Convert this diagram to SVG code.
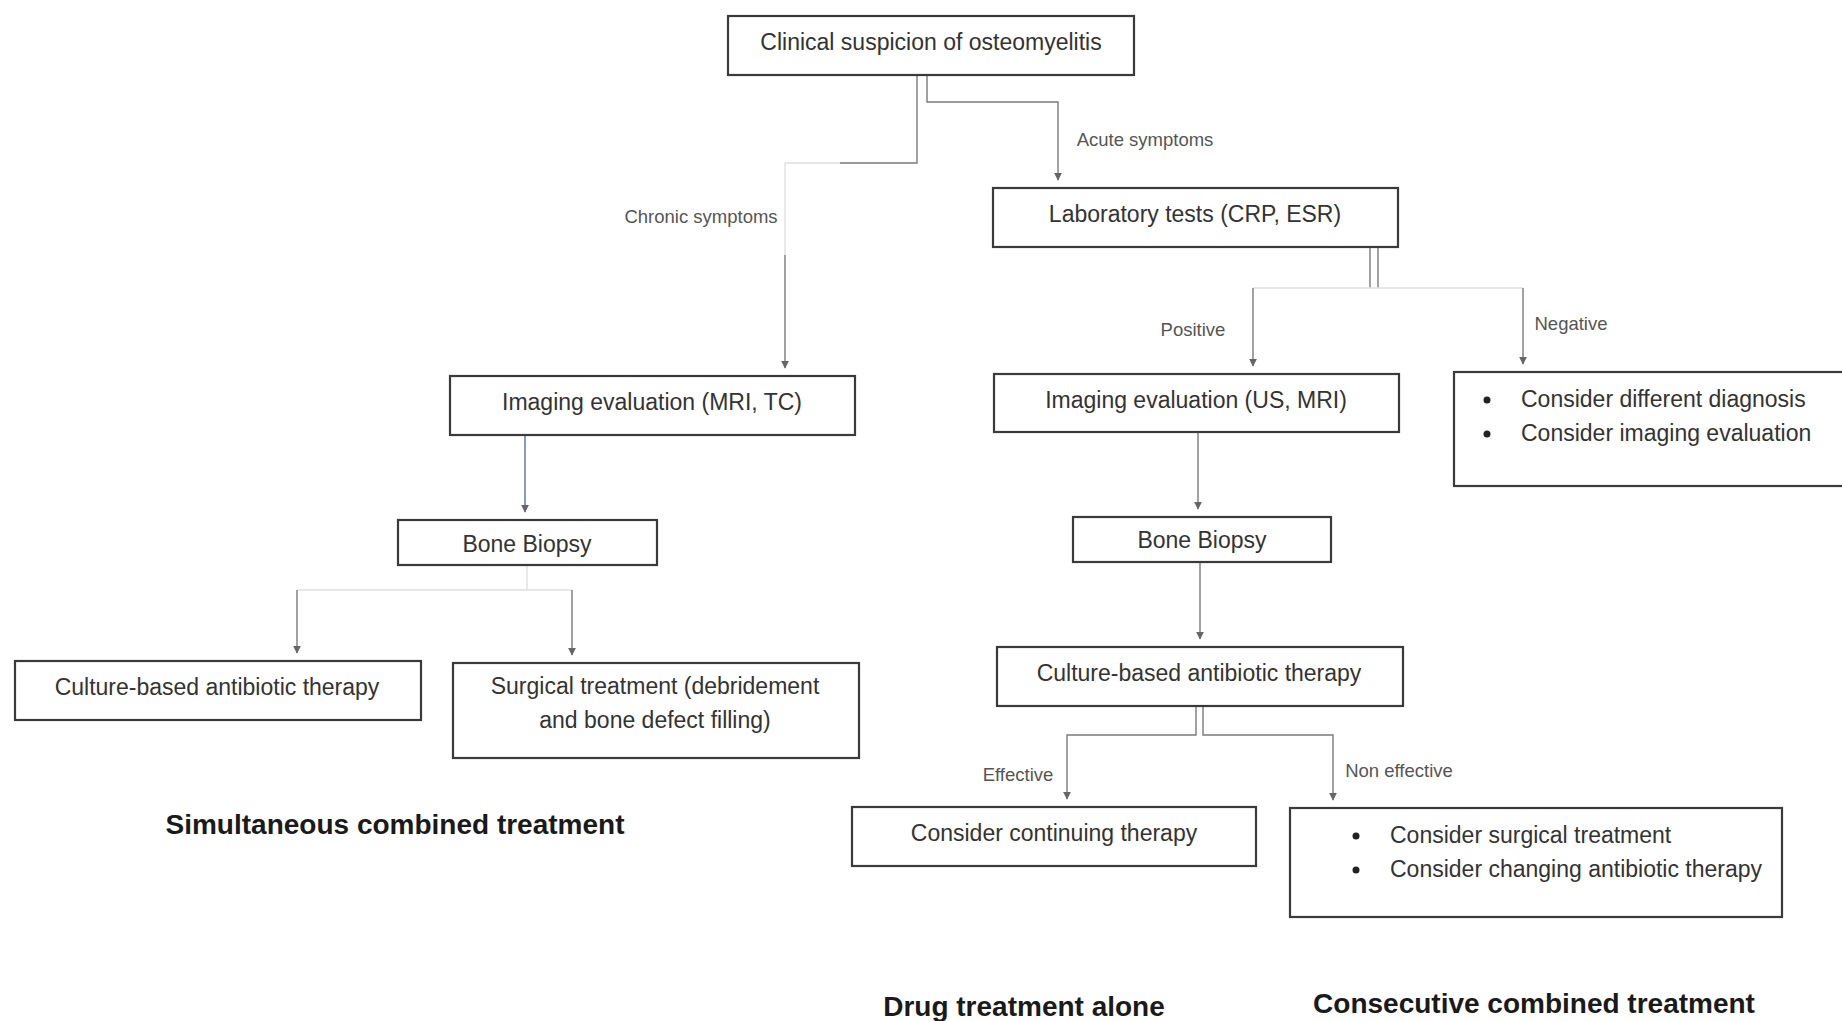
<svg xmlns="http://www.w3.org/2000/svg" width="1842" height="1021" viewBox="0 0 1842 1021">
<defs>
<style>
.box{fill:#fff;stroke:#3a3a3a;stroke-width:2.2}
.t{font-family:"Liberation Sans",Arial,sans-serif;font-size:23px;fill:#333;text-anchor:middle}
.tl{font-family:"Liberation Sans",Arial,sans-serif;font-size:23px;fill:#333}
.lab{font-family:"Liberation Sans",Arial,sans-serif;font-size:18.5px;fill:#555;text-anchor:middle}
.big{font-family:"Liberation Sans",Arial,sans-serif;font-size:28px;font-weight:bold;fill:#1a1a1a;text-anchor:middle}
.c{fill:none;stroke:#7a7a7a;stroke-width:1.4}
.cf{fill:none;stroke:#e0e0e0;stroke-width:1.4}
.cb{fill:none;stroke:#5b6ea6;stroke-width:1.4}
</style>
<marker id="ah" viewBox="0 0 10 10" refX="9" refY="5" markerWidth="8" markerHeight="8" markerUnits="userSpaceOnUse" orient="auto">
<path d="M0,0 L10,5 L0,10 z" fill="#666"/>
</marker>
</defs>
<rect width="1842" height="1021" fill="#fff"/>

<g id="connectors">
<path class="c" d="M927,75 V102 H1058 V180" marker-end="url(#ah)"/>
<path class="c" d="M917,75 V163 H840"/>
<path class="cf" d="M840,163 H785 V255"/>
<path class="c" d="M785,255 V368" marker-end="url(#ah)"/>
<path class="c" d="M1370,247 V288"/>
<path class="c" d="M1378,247 V288"/>
<path class="cf" d="M1253,288 H1523"/>
<path class="c" d="M1253,288 V366" marker-end="url(#ah)"/>
<path class="c" d="M1523,288 V364" marker-end="url(#ah)"/>
<path class="cb" d="M525,435 V512" marker-end="url(#ah)"/>
<path class="c" d="M1198,432 V509" marker-end="url(#ah)"/>
<path class="cf" d="M527,565 V590 M297,590 H572"/>
<path class="c" d="M297,590 V653" marker-end="url(#ah)"/>
<path class="c" d="M572,590 V655" marker-end="url(#ah)"/>
<path class="c" d="M1200,562 V639" marker-end="url(#ah)"/>
<path class="c" d="M1196,706 V735 H1067 V799" marker-end="url(#ah)"/>
<path class="c" d="M1203,706 V735 H1333 V800" marker-end="url(#ah)"/>
</g>

<g id="connector-labels">
<text class="lab" x="1145" y="146">Acute symptoms</text>
<text class="lab" x="701" y="223">Chronic symptoms</text>
<text class="lab" x="1193" y="336">Positive</text>
<text class="lab" x="1571" y="330">Negative</text>
<text class="lab" x="1018" y="781">Effective</text>
<text class="lab" x="1399" y="777">Non effective</text>
</g>

<g id="n-suspicion">
<rect class="box" x="728" y="16" width="406" height="59"/>
<text class="t" x="931" y="50">Clinical suspicion of osteomyelitis</text>
</g>
<g id="n-lab">
<rect class="box" x="993" y="188" width="405" height="59"/>
<text class="t" x="1195" y="222">Laboratory tests (CRP, ESR)</text>
</g>
<g id="n-imaging-mri-tc">
<rect class="box" x="450" y="376" width="405" height="59"/>
<text class="t" x="652" y="410">Imaging evaluation (MRI, TC)</text>
</g>
<g id="n-imaging-us-mri">
<rect class="box" x="994" y="374" width="405" height="58"/>
<text class="t" x="1196" y="408">Imaging evaluation (US, MRI)</text>
</g>
<g id="n-negative">
<rect class="box" x="1454" y="372" width="400" height="114"/>
<circle cx="1487" cy="400" r="3.5" fill="#222"/>
<circle cx="1487" cy="434" r="3.5" fill="#222"/>
<text class="tl" x="1521" y="407">Consider different diagnosis</text>
<text class="tl" x="1521" y="441">Consider imaging evaluation</text>
</g>
<g id="n-biopsy-left">
<rect class="box" x="398" y="520" width="259" height="45"/>
<text class="t" x="527" y="552">Bone Biopsy</text>
</g>
<g id="n-biopsy-right">
<rect class="box" x="1073" y="517" width="258" height="45"/>
<text class="t" x="1202" y="548">Bone Biopsy</text>
</g>
<g id="n-culture-right">
<rect class="box" x="997" y="647" width="406" height="59"/>
<text class="t" x="1199" y="681">Culture-based antibiotic therapy</text>
</g>
<g id="n-culture-left">
<rect class="box" x="15" y="661" width="406" height="59"/>
<text class="t" x="217" y="695">Culture-based antibiotic therapy</text>
</g>
<g id="n-surgical">
<rect class="box" x="453" y="663" width="406" height="95"/>
<text class="t" x="655" y="694">Surgical treatment (debridement</text>
<text class="t" x="655" y="728">and bone defect filling)</text>
</g>
<g id="n-continuing">
<rect class="box" x="852" y="807" width="404" height="59"/>
<text class="t" x="1054" y="841">Consider continuing therapy</text>
</g>
<g id="n-noneffective">
<rect class="box" x="1290" y="808" width="492" height="109"/>
<circle cx="1356" cy="836" r="3.5" fill="#222"/>
<circle cx="1356" cy="870" r="3.5" fill="#222"/>
<text class="tl" x="1390" y="843">Consider surgical treatment</text>
<text class="tl" x="1390" y="877">Consider changing antibiotic therapy</text>
</g>

<g id="section-titles">
<text class="big" x="395" y="834">Simultaneous combined treatment</text>
<text class="big" x="1024" y="1016">Drug treatment alone</text>
<text class="big" x="1534" y="1013">Consecutive combined treatment</text>
</g>
</svg>
